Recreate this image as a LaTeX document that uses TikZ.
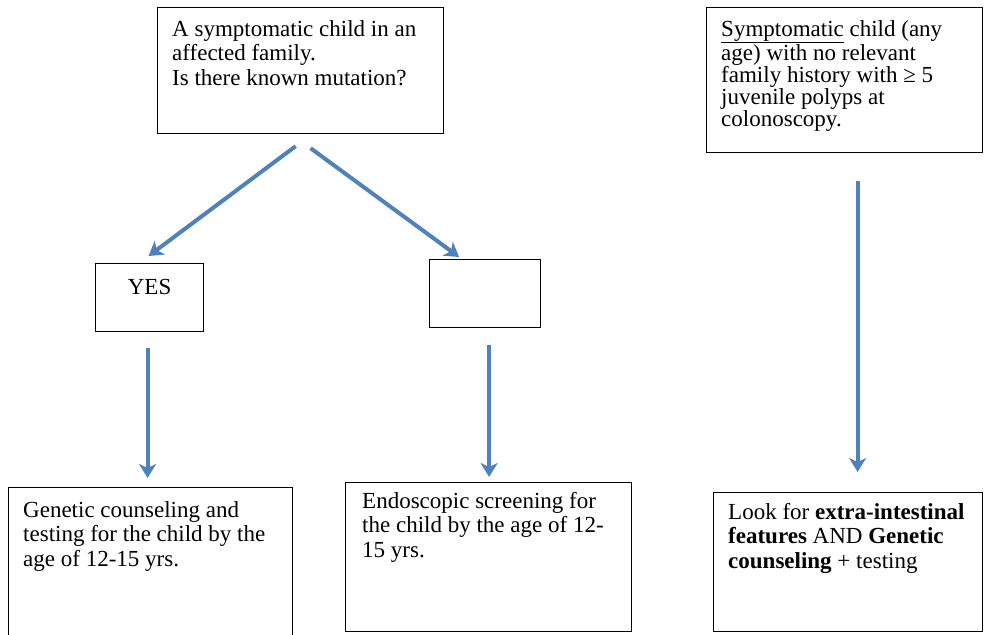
\documentclass[tikz,border=0pt]{standalone}
\usepackage{fontspec}
\setmainfont{Liberation Serif}
\usepackage{tikz}
\usetikzlibrary{arrows.meta}
\definecolor{flowblue}{HTML}{4F81BD}

\begin{document}
\begin{tikzpicture}[x=1pt,y=-1pt,
	box/.style={draw,line width=1.2pt,anchor=north west,inner sep=0pt},
	txt/.style={anchor=north west,align=left,inner sep=0pt,font=\fontsize{23}{24.5}\selectfont},
	flow/.style={draw=flowblue,line width=4pt,-{Stealth[length=14pt,width=17pt,inset=4pt]}}]
		\useasboundingbox (0,0) rectangle (984,634);
%		\draw[help lines,step=50] (0,0) grid (984,634);
		\path (157,7) node(question) [box,minimum width=286pt,minimum height=126pt] {};
		\path (706,7) node(history) [box,minimum width=276pt,minimum height=145pt] {};
		\path (95,263) node(yes) [box,minimum width=108pt,minimum height=68pt] {};
		\path (429,259) node(unknown) [box,minimum width=111pt,minimum height=68pt] {};
		\path (8,487) node(counsel) [box,minimum width=284pt,minimum height=160pt] {};
		\path (345,482) node(screen) [box,minimum width=286pt,minimum height=149pt] {};
		\path (713,492) node(extra) [box,minimum width=269pt,minimum height=139pt] {};

		\path (question.north west) +(15,13) node(question_text) [txt]
			{A symptomatic child in an\\affected family.\\Is there known mutation?};
		\path (history.north west) +(15,13) node(history_text) [txt,font=\fontsize{23}{22}\selectfont]
			{\underline{Symptomatic} child (any\\age) with no relevant\\family history with ≥ 5\\juvenile polyps at\\colonoscopy.};
		\path (yes.north) +(0,31) node(yes_text) [txt,anchor=base] {YES};
		\path (counsel.north west) +(15,14) node(counsel_text) [txt]
			{Genetic counseling and\\testing for the child by the\\age of 12-15 yrs.};
		\path (screen.north west) +(17,10) node(screen_text) [txt]
			{Endoscopic screening for\\the child by the age of 12-\\15 yrs.};
		\path (extra.north west) +(15,11) node(extra_text) [txt]
			{Look for \textbf{extra-intestinal}\\\textbf{features} AND \textbf{Genetic}\\\textbf{counseling} + testing};

		\path (question.south) +(-5,12) coordinate (q_yes);
		\path (question.south) +(10,14) coordinate (q_unknown);
		\path (yes.north) +(-1,-7) coordinate (yes_in);
		\path (unknown.north) +(-26,-2) coordinate (unknown_in);
		\path (yes.south) +(-2,16) coordinate (yes_out);
		\path (unknown.south) +(4,17) coordinate (unknown_out);
		\path (history.south) +(13,28) coordinate (history_out);
		\path (yes_out |- counsel.north) +(0,-9) coordinate (counsel_in);
		\path (unknown_out |- screen.north) +(0,-5) coordinate (screen_in);
		\path (history_out |- extra.north) +(0,-20) coordinate (extra_in);

		\draw[flow] (q_yes) -- (yes_in);
		\draw[flow] (q_unknown) -- (unknown_in);
		\draw[flow] (yes_out) -- (counsel_in);
		\draw[flow] (unknown_out) -- (screen_in);
		\draw[flow] (history_out) -- (extra_in);
	\end{tikzpicture}
\end{document}
